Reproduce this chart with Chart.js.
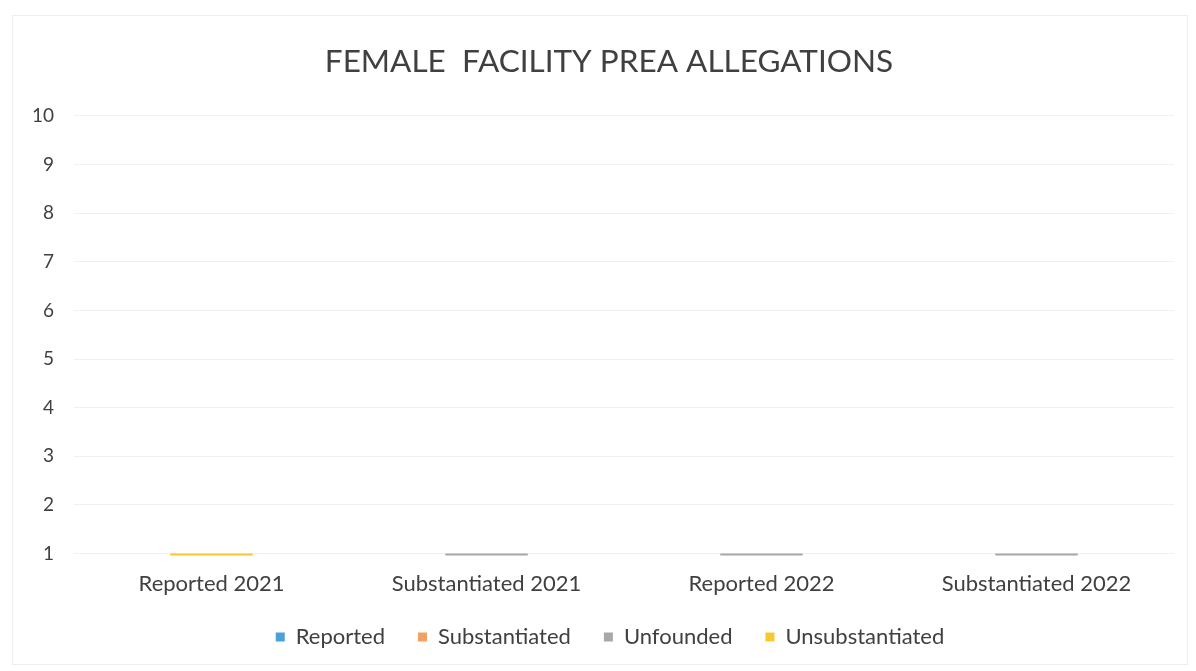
<!DOCTYPE html>
<html>
<head>
<meta charset="utf-8">
<script src="https://cdn.jsdelivr.net/npm/chart.js@4/dist/chart.umd.min.js"></script>
<style>
  html, body { margin: 0; padding: 0; background: #ffffff; }
  #wrap { position: relative; width: 1196px; height: 671px; }
  #frame { position: absolute; left: 12px; top: 15px; width: 1176px; height: 650px; border: 1px solid #eeeeee; box-sizing: border-box; pointer-events: none; }
  canvas { position: absolute; left: 0; top: 0; }
</style>
</head>
<body>
<div id="wrap">
  <canvas id="c" width="1196" height="671"></canvas>
  <div id="frame"></div>
</div>
<script>
const titleText = 'FEMALE  FACILITY PREA ALLEGATIONS';
const categories = ['Reported 2021', 'Substantiated 2021', 'Reported 2022', 'Substantiated 2022'];
const seriesNames = ['Reported', 'Substantiated', 'Unfounded', 'Unsubstantiated'];
const reportedValues = [0, 0, 0, 0];
const substantiatedValues = [0, 0, 0, 0];
const unfoundedValues = [0, 1, 1, 1];
const unsubstantiatedValues = [1, 0, 0, 0];
const yTickLabels = [1, 2, 3, 4, 5, 6, 7, 8, 9, 10];
const seriesColors = ['#4aa0d8', '#f4a060', '#a8a8a8', '#f8c830'];

const seriesValues = [reportedValues, substantiatedValues, unfoundedValues, unsubstantiatedValues];
const FONT = 'Lato, "Open Sans", sans-serif';

// Nudge title and legend boxes to match the reference placement
const boxShift = {
  id: 'boxShift',
  afterLayout(chart) {
    const t = chart.titleBlock;
    if (t) { t.left += 16; t.right += 16; }
    const l = chart.legend;
    if (l) { l.left += 17; l.right += 17; l.top -= 13; l.bottom -= 13; }
  }
};

new Chart(document.getElementById('c'), {
  type: 'bar',
  data: {
    labels: categories,
    datasets: seriesNames.map((name, i) => ({
      label: name,
      data: seriesValues[i],
      backgroundColor: seriesColors[i],
      borderWidth: 0,
      categoryPercentage: 1.0,
      barPercentage: 0.3,
      clip: { left: 0, top: 0, right: 0, bottom: 2 }
    }))
  },
  plugins: [boxShift],
  options: {
    responsive: false,
    animation: false,
    layout: { padding: { left: 12, right: 22, top: 0, bottom: 0 } },
    scales: {
      x: {
        stacked: true,
        grid: { display: false },
        border: { display: false },
        ticks: { color: '#404040', font: { family: FONT, size: 22 }, padding: 9 }
      },
      y: {
        stacked: true,
        min: yTickLabels[0],
        max: yTickLabels[yTickLabels.length - 1],
        afterBuildTicks: (scale) => { scale.ticks = yTickLabels.map(v => ({ value: v })); },
        grid: { color: '#f0f0f0', drawTicks: false, lineWidth: 1 },
        border: { display: false },
        ticks: { color: '#404040', font: { family: FONT, size: 19 }, padding: 20 }
      }
    },
    plugins: {
      title: {
        display: true,
        text: titleText,
        color: '#404040',
        font: { family: FONT, size: 31.5, weight: 'normal' },
        padding: { top: 43, bottom: 35 }
      },
      legend: {
        position: 'bottom',
        labels: {
          color: '#404040',
          font: { family: FONT, size: 22 },
          boxWidth: 9,
          boxHeight: 9,
          padding: 33
        }
      },
      tooltip: { enabled: false }
    }
  }
});
</script>
</body>
</html>
